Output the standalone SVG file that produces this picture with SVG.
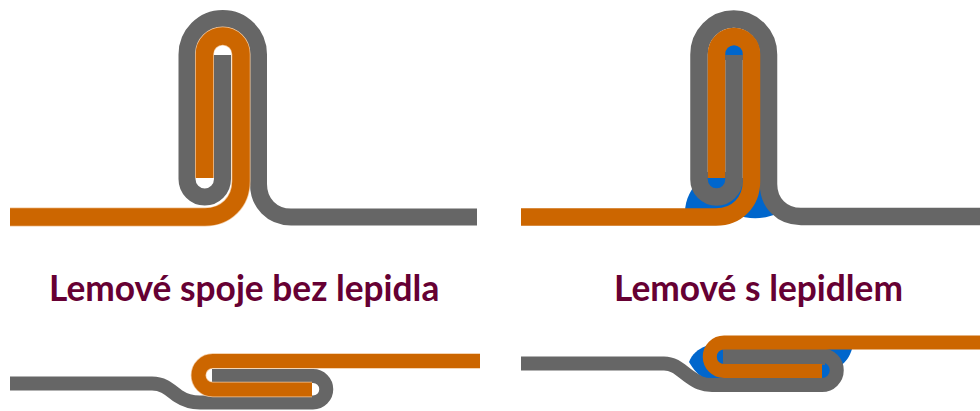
<svg xmlns="http://www.w3.org/2000/svg" width="980" height="411" viewBox="0 0 980 411">
<style>
.g{fill:none;stroke:#666666;stroke-width:17}
.g2{fill:none;stroke:#666666;stroke-width:17.5}
.o{fill:none;stroke:#cc6600;stroke-width:17.5}
.p{fill:none;stroke:#f2c79c;stroke-width:19}
.gs{fill:none;stroke:#666666;stroke-width:14}
.gw{fill:none;stroke:#666666;stroke-width:16}
.os{fill:none;stroke:#cc6600;stroke-width:14}
.ps{fill:none;stroke:#f2c79c;stroke-width:15.500}
.b{fill:#0066cc}
.t{font-family:Lato,"Liberation Sans",sans-serif;font-weight:700;font-size:35.300px;fill:#660033}
</style>
<rect width="980" height="411" fill="#ffffff"/>
<g id="seam-tall-plain">
<path class="g" d="M477 217H291C272 217 258.500 203 258.500 184V54.500A35.750 36 0 0 0 187 54.500V179A17.750 18 0 0 0 222.500 179V55"/>
<path class="p" d="M10 217H205C226 217 241 202 241 181V54A18.250 18 0 0 0 204.500 54V178"/>
<path class="o" d="M10 217H205C226 217 241 202 241 181V54A18.250 18 0 0 0 204.500 54V178"/>
</g>
<g id="seam-tall-glued">
<path class="b" d="M685 212C685 200 691 188 701 178H745V212Z"/>
<path class="b" d="M735 214C748 220 765 219 776 214C771 203 764 191 757 180H745V205Z"/>
<path class="b" d="M722 40H746V60H722ZM704 172H728V190H704Z"/>
<path class="g2" d="M988 216.500H801C782 216.500 768.500 203 768.500 184V54.500A34.750 35.500 0 0 0 699 54.500V179.500A17.500 17.500 0 0 0 734 179.500V55"/>
<path class="o" d="M521 217H716C737 217 751.500 202 751.500 181V54A17.500 17.500 0 0 0 716.500 54V178"/>
</g>
<g id="label-left"><text class="t" x="49" y="301">Lemové spoje bez lepidla</text></g>
<g id="label-right"><text class="t" x="614" y="301">Lemové s lepidlem</text></g>
<g id="seam-flat-plain">
<path class="gs" d="M10 383.500H152C164 383.500 170 390 178 396C184 400 190 402.500 200 402.500H313A13.250 13.250 0 0 0 313 376H212"/>
<path class="ps" d="M480 361H212.750A14.250 14.250 0 0 0 212.750 389.500H312"/>
<path class="os" d="M480 361H212.750A14.250 14.250 0 0 0 212.750 389.500H312"/>
</g>
<g id="seam-flat-glued">
<path class="b" d="M689 362C692 354 698 349 706 346H730V380H706C698 375 693 369 689 362Z"/>
<path class="b" d="M815 349H852C850 356 846 362 840 366H835V380H815Z"/>
<path class="b" d="M712 348H730V366H712Z"/>
<path class="gs" d="M521 363.500H664C676 363.500 682 372 690 377C697 382 702 385 712 385H822A14.750 14.750 0 0 0 822 355.500"/>
<path class="gw" d="M825 357H723"/>
<path class="os" d="M980 342.500H724A14.250 14.250 0 0 0 724 371H822"/>
</g>
</svg>
